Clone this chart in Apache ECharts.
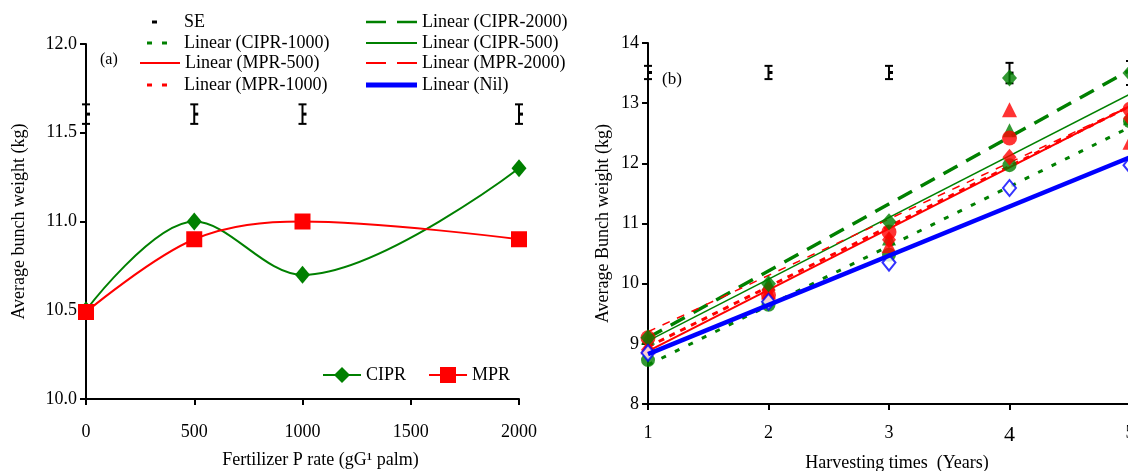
<!DOCTYPE html>
<html><head><meta charset="utf-8">
<script src="https://cdn.jsdelivr.net/npm/echarts@6/dist/echarts.min.js"></script>
<style>html,body{margin:0;padding:0;background:#fff}#c{width:1128px;height:471px}</style>
</head><body><div id="c"></div>
<script>
// ---------- Panel (a) data ----------
const rates = [0, 500, 1000, 2000];
const ciprA = [10.5, 11.0, 10.7, 11.3];
const mprA = [10.49, 10.9, 11.0, 10.9];
const seA_x = [0, 500, 1000, 2000];
const seA_lo = [11.55, 11.55, 11.55, 11.55];
const seA_hi = [11.66, 11.66, 11.66, 11.66];
const rateTicks = ['0', '500', '1000', '1500', '2000'];

// ---------- Panel (b) data ----------
const years = [1, 2, 3, 4, 5];
const ptCIPR2000 = [9.1, 10.0, 11.03, 13.42, 13.5];
const ptCIPR1000 = [8.73, 9.65, 10.48, 11.97, 12.7];
const ptCIPR500 = [9.1, 10.0, 10.75, 12.55, 12.75];
const ptMPR2000 = [8.95, 9.86, 10.63, 12.89, 12.35];
const ptMPR1000 = [9.1, 9.81, 10.86, 12.42, 12.9];
const ptMPR500 = [8.9, 9.9, 10.73, 12.1, 12.75];
const ptNil = [8.85, 9.7, 10.35, 11.59, 11.97];
// linear trend lines: value at first and last year
const trendYears = [1, 5];
const trCIPR1000 = [8.65, 12.6];
const trMPR500 = [8.88, 12.95];
const trMPR1000 = [8.95, 12.95];
const trCIPR2000 = [9.1, 13.55];
const trCIPR500 = [9.05, 13.15];
const trMPR2000 = [9.2, 12.95];
const trNil = [8.83, 12.1];
const seB_x = [1, 2, 3, 4, 5];
const seB_lo = [13.40, 13.40, 13.40, 13.33, 13.3];
const seB_hi = [13.62, 13.62, 13.62, 13.67, 13.7];

const FF = 'Liberation Serif';
const GREEN = '#008000', RED = '#ff0000', BLUE = '#0000ff';
const zip = (xs, ys) => xs.map((x, i) => [x, ys[i]]);

function seRender(params, api) {
  const x = api.value(0), lo = api.value(1), hi = api.value(2);
  const a = api.coord([x, hi]), b = api.coord([x, lo]), m = api.coord([x, (lo + hi) / 2]);
  const w = 4, st = {stroke: '#000', lineWidth: 2};
  return {type: 'group', children: [
    {type: 'line', shape: {x1: a[0], y1: a[1], x2: b[0], y2: b[1]}, style: st},
    {type: 'line', shape: {x1: a[0] - w, y1: a[1], x2: a[0] + w, y2: a[1]}, style: st},
    {type: 'line', shape: {x1: b[0] - w, y1: b[1], x2: b[0] + w, y2: b[1]}, style: st},
    {type: 'rect', shape: {x: m[0], y: m[1] - 1.5, width: 4, height: 3}, style: {fill: '#000'}}
  ]};
}

function axisCommon() {
  return {
    axisLine: {lineStyle: {color: '#000', width: 2}},
    axisTick: {length: 6, lineStyle: {color: '#000', width: 2}},
    splitLine: {show: false},
    nameTextStyle: {color: '#000', fontFamily: FF, fontSize: 18},
  };
}

function trend(name, vals, color, width, type, z) {
  return {type: 'line', name, xAxisIndex: 1, yAxisIndex: 1, data: zip(trendYears, vals),
    symbol: 'none', lineStyle: {color, width, type}, itemStyle: {color}, z: z || 3, silent: true};
}
function pts(name, vals, color, symbol, size, open) {
  return {type: 'scatter', name, xAxisIndex: 1, yAxisIndex: 1, data: zip(years, vals), symbol,
    symbolSize: size, itemStyle: open ? {color: '#fff', borderColor: color, borderWidth: 2} : {color},
    z: 5, silent: true};
}

const ICON_DOT = 'path://M0,0h5v3h-5z M15,0h5v3h-5z';
const ICON_DASH = 'path://M0,0h20v2.5h-20z M31,0h20v2.5h-20z';
const legTxt = {fontFamily: FF, fontSize: 18, color: '#000'};
function leg(name, icon, left, top, w, h, pad) {
  return {data: [{name, icon}], left, top, itemWidth: w, itemHeight: h, padding: 0,
    orient: 'horizontal', selectedMode: false, symbolKeepAspect: false,
    itemStyle: {borderWidth: 0},
    textStyle: Object.assign({}, legTxt, {padding: [0, 0, 0, pad || 0]})};
}

const option = {
  animation: false,
  backgroundColor: '#fff',
  textStyle: {fontFamily: FF},
  grid: [
    {left: 86, top: 44, width: 433, height: 355, outerBoundsMode: 'none', containLabel: false},
    {left: 648, top: 43, width: 482, height: 361, outerBoundsMode: 'none', containLabel: false}
  ],
  xAxis: [
    Object.assign(axisCommon(), {type: 'value', gridIndex: 0, min: 0, max: 2000, interval: 500,
      axisLabel: {margin: 24, color: '#000', fontFamily: FF, fontSize: 18,
        formatter: (v) => rateTicks[v / 500]},
      name: 'Fertilizer P rate (gG\u00b9 palm)', nameLocation: 'middle', nameGap: 52,
      nameTextStyle: {color: '#000', fontFamily: FF, fontSize: 18, padding: [0, 0, 0, 36]}}),
    Object.assign(axisCommon(), {type: 'value', gridIndex: 1, min: 1, max: 5, interval: 1,
      axisLabel: {margin: 20, color: '#000', fontFamily: FF, fontSize: 18,
        formatter: (v) => v === 4 ? '{big|4}' : String(v), rich: {big: {fontSize: 22, fontFamily: FF, color: '#000'}}},
      name: 'Harvesting times  (Years)', nameLocation: 'middle', nameGap: 50,
      nameTextStyle: {color: '#000', fontFamily: FF, fontSize: 18, padding: [0, 0, 0, 16]}})
  ],
  yAxis: [
    Object.assign(axisCommon(), {type: 'value', gridIndex: 0, min: 10, max: 12, interval: 0.5,
      axisLabel: {margin: 9, color: '#000', fontFamily: FF, fontSize: 18, formatter: (v) => v.toFixed(1)},
      name: 'Average bunch weight (kg)', nameLocation: 'middle', nameGap: 58}),
    Object.assign(axisCommon(), {type: 'value', gridIndex: 1, min: 8, max: 14, interval: 1,
      axisLabel: {margin: 9, color: '#000', fontFamily: FF, fontSize: 18},
      name: 'Average Bunch weight (kg)', nameLocation: 'middle', nameGap: 36})
  ],
  legend: [
    leg('SE', 'rect', 152, 13, 5, 3, 22),
    leg('Linear (CIPR-1000)', ICON_DOT, 147, 34, 20, 3, 12),
    leg('Linear (MPR-500)', 'rect', 140, 54, 40, 2, 0),
    leg('Linear (MPR-1000)', ICON_DOT, 147, 76, 20, 3, 12),
    leg('Linear (CIPR-2000)', ICON_DASH, 366, 13, 51, 2.5, 0),
    leg('Linear (CIPR-500)', 'rect', 366, 34, 51, 2, 0),
    leg('Linear (MPR-2000)', ICON_DASH, 366, 54, 51, 2, 0),
    leg('Linear (Nil)', 'rect', 366, 76, 51, 5, 0),
    {data: ['CIPR', 'MPR'], left: 322, top: 366, itemWidth: 38, itemHeight: 20, itemGap: 22,
      padding: 0, selectedMode: false, textStyle: legTxt}
  ],
  graphic: [
    {type: 'text', left: 100, top: 52, style: {text: '(a)', fontFamily: FF, fontSize: 16, fill: '#000'}},
    {type: 'text', left: 662, top: 71, style: {text: '(b)', fontFamily: FF, fontSize: 17, fill: '#000'}}
  ],
  series: [
    // Panel (a)
    {type: 'custom', name: 'SE-a', xAxisIndex: 0, yAxisIndex: 0, renderItem: seRender,
      data: seA_x.map((x, i) => [x, seA_lo[i], seA_hi[i]]), z: 2, silent: true},
    {type: 'line', name: 'CIPR', xAxisIndex: 0, yAxisIndex: 0, data: zip(rates, ciprA), smooth: 0.35,
      symbol: 'diamond', symbolSize: [15, 18], lineStyle: {color: GREEN, width: 2}, itemStyle: {color: GREEN}, z: 4},
    {type: 'line', name: 'MPR', xAxisIndex: 0, yAxisIndex: 0, data: zip(rates, mprA), smooth: 0.35,
      symbol: 'rect', symbolSize: 16, lineStyle: {color: RED, width: 2}, itemStyle: {color: RED}, z: 4},
    // Panel (b)
    {type: 'custom', name: 'SE', xAxisIndex: 1, yAxisIndex: 1, renderItem: seRender,
      data: seB_x.map((x, i) => [x, seB_lo[i], seB_hi[i]]), itemStyle: {color: '#000'}, z: 2, silent: true},
    pts('CIPR-1000 pts', ptCIPR1000, GREEN, 'circle', 14),
    pts('CIPR-500 pts', ptCIPR500, GREEN, 'triangle', 14),
    pts('MPR-2000 pts', ptMPR2000, RED, 'triangle', 15),
    pts('MPR-500 pts', ptMPR500, RED, 'diamond', [14, 17]),
    pts('MPR-1000 pts', ptMPR1000, RED, 'circle', 15),
    pts('CIPR-2000 pts', ptCIPR2000, GREEN, 'diamond', [15, 17]),
    pts('Nil pts', ptNil, BLUE, 'diamond', [13, 16], true),
    trend('Linear (CIPR-1000)', trCIPR1000, GREEN, 3, [5, 10]),
    trend('Linear (MPR-500)', trMPR500, RED, 2, 'solid'),
    trend('Linear (MPR-1000)', trMPR1000, RED, 3, [6, 6]),
    trend('Linear (CIPR-2000)', trCIPR2000, GREEN, 3.5, [16, 10]),
    trend('Linear (CIPR-500)', trCIPR500, GREEN, 1.5, 'solid'),
    trend('Linear (MPR-2000)', trMPR2000, RED, 1.5, [8, 8]),
    trend('Linear (Nil)', trNil, BLUE, 4.5, 'solid', 6)
  ]
};
const chart = echarts.init(document.getElementById('c'), null, {renderer: 'canvas'});
chart.setOption(option);
</script></body></html>
